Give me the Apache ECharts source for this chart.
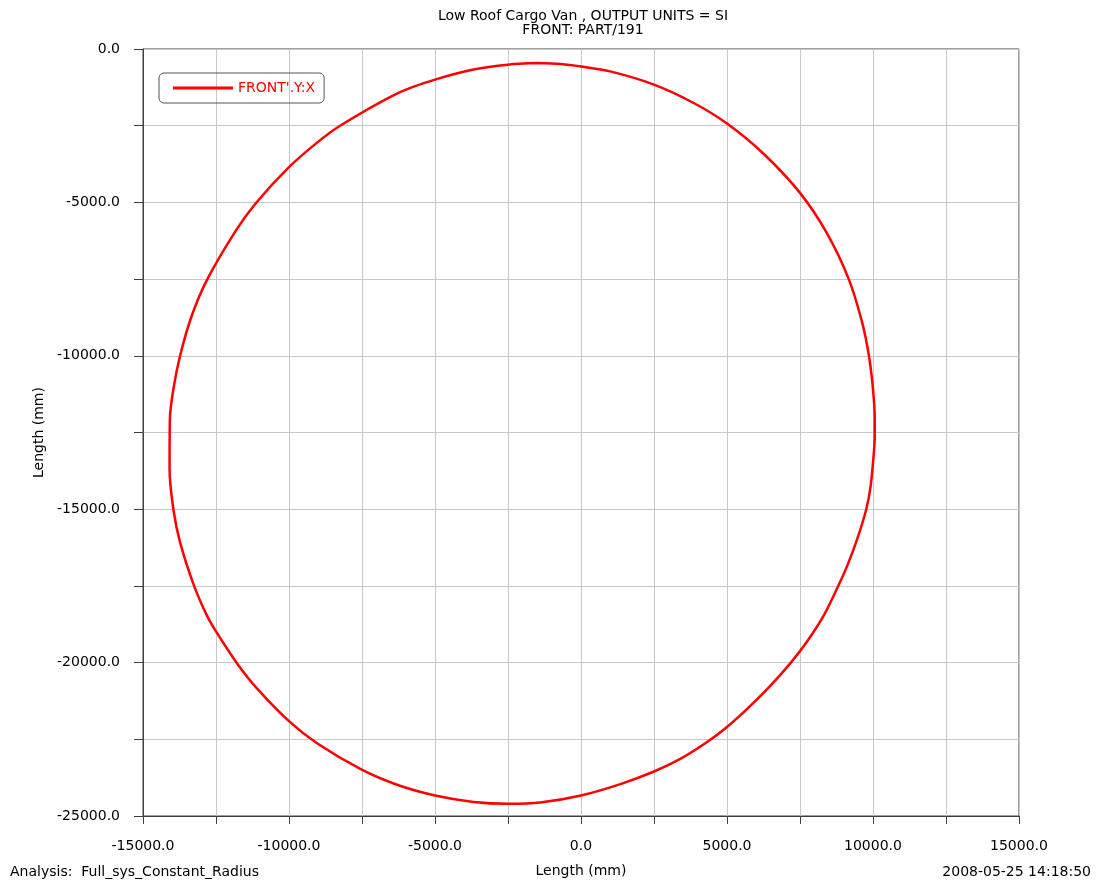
<!DOCTYPE html>
<html>
<head>
<meta charset="utf-8">
<title>FRONT PART/191</title>
<script src="https://cdn.jsdelivr.net/npm/echarts@6/dist/echarts.min.js"></script>
<style>
	html, body { margin: 0; padding: 0; background: #fff; }
	#main { width: 1101px; height: 883px; }
</style>
</head>
<body>
<div id="main"></div>
<script>
// path of FRONT (Y against X),
// clockwise from the top and back to the start
var frontX = [
	-1500, -710, 0, 1000, 2500, 3860, 5000, 6270, 7500, 8420,
	9170, 9630, 9860, 10000, 10060, 10060, 10030, 9920, 9770, 9460,
	9120, 8810, 8310, 7730, 7180, 6490, 5690, 5000, 4320, 3400,
	2500, 1350, 0, -1400, -2500, -3680, -5000, -6300, -7510, -9040,
	-10010, -11090, -11790, -12490, -12810, -13250, -13730, -13960, -14090, -14080,
	-13960, -13730, -13340, -12800, -11820, -11130, -10010, -9050, -8250, -6250,
	-5000, -3680, -2500, -1500
];
var frontY = [
	-460, -490, -570, -730, -1160, -1760, -2430, -3430, -4690, -6000,
	-7500, -8920, -10000, -11090, -12070, -12600, -13150, -14240, -15000, -15970,
	-16840, -17500, -18470, -19330, -20010, -20750, -21510, -22100, -22590, -23140,
	-23550, -23960, -24330, -24560, -24600, -24540, -24330, -23980, -23490, -22630,
	-21900, -20850, -20010, -19000, -18470, -17500, -16080, -15000, -13700, -12070,
	-11090, -10000, -8720, -7510, -5920, -5020, -3860, -3060, -2500, -1430,
	-1000, -670, -510, -460
];

var xTicks = { min: -15000, max: 15000, step: 2500 };
var yTicks = { min: -25000, max: 0, step: 2500 };

var FONT = 'DejaVu Sans';
var axisDark = '#404040';
var gridGray = '#c8c8c8';

function labelEvery5000(v) {
	return Math.abs(v % 5000) < 1e-6 ? v.toFixed(1) : '';
}

var chart = echarts.init(document.getElementById('main'), null, { renderer: 'canvas' });

var points = frontX.map(function (x, i) {
	return [x, frontY[i]];
});

var option = {
	backgroundColor: '#ffffff',
	animation: false,
	title: {
		text: 'Low Roof Cargo Van , OUTPUT UNITS = SI\nFRONT: PART/191',
		left: 578,
		textAlign: 'center',
		top: 4,
		textStyle: {
			fontFamily: FONT,
			fontSize: 14,
			fontWeight: 'normal',
			color: '#000',
			lineHeight: 14
		}
	},
	legend: {
		left: 159,
		top: 73,
		data: ["FRONT'.Y:X"],
		icon: 'rect',
		itemWidth: 60,
		itemHeight: 3,
		padding: [8, 9, 8, 14],
		borderColor: '#555',
		borderWidth: 1,
		borderRadius: 5,
		textStyle: {
			fontFamily: FONT,
			fontSize: 14,
			color: '#ff0000'
		}
	},
	grid: {
		left: 143,
		right: 82,
		top: 49,
		bottom: 66,
		show: true,
		borderColor: axisDark,
		borderWidth: 1
	},
	xAxis: {
		type: 'value',
		min: xTicks.min,
		max: xTicks.max,
		interval: xTicks.step,
		name: 'Length (mm)',
		nameLocation: 'middle',
		nameGap: 48,
		nameTextStyle: { fontFamily: FONT, fontSize: 14, color: '#000' },
		axisLine: { show: true, onZero: false, lineStyle: { color: axisDark, width: 1 } },
		axisTick: { show: true, length: 8, lineStyle: { color: axisDark } },
		axisLabel: {
			interval: 0,
			margin: 23,
			fontFamily: FONT,
			fontSize: 14,
			color: '#000',
			formatter: labelEvery5000
		},
		splitLine: { show: true, lineStyle: { color: gridGray, width: 1 } }
	},
	yAxis: {
		type: 'value',
		min: yTicks.min,
		max: yTicks.max,
		interval: yTicks.step,
		name: 'Length (mm)',
		nameLocation: 'middle',
		nameRotate: 90,
		nameGap: 88,
		nameTextStyle: { fontFamily: FONT, fontSize: 14, color: '#000' },
		axisLine: { show: true, onZero: false, lineStyle: { color: axisDark, width: 1 } },
		axisTick: { show: true, length: 9, lineStyle: { color: axisDark } },
		axisLabel: {
			interval: 0,
			margin: 23,
			fontFamily: FONT,
			fontSize: 14,
			color: '#000',
			formatter: labelEvery5000
		},
		splitLine: { show: true, lineStyle: { color: gridGray, width: 1 } }
	},
	graphic: [
		{
			type: 'text',
			left: 10,
			top: 865,
			style: { text: 'Analysis:  Full_sys_Constant_Radius', font: '14px "DejaVu Sans"', fill: '#000' }
		},
		{
			type: 'text',
			right: 10,
			top: 865,
			style: { text: '2008-05-25 14:18:50', font: '14px "DejaVu Sans"', fill: '#000' }
		}
	],
	series: [{
		name: "FRONT'.Y:X",
		type: 'line',
		data: points,
		showSymbol: false,
		symbol: 'none',
		smooth: 0.3,
		lineStyle: { color: '#ff0000', width: 2.5 },
		itemStyle: { color: '#ff0000' }
	}]
};

chart.setOption(option);
</script>
</body>
</html>
